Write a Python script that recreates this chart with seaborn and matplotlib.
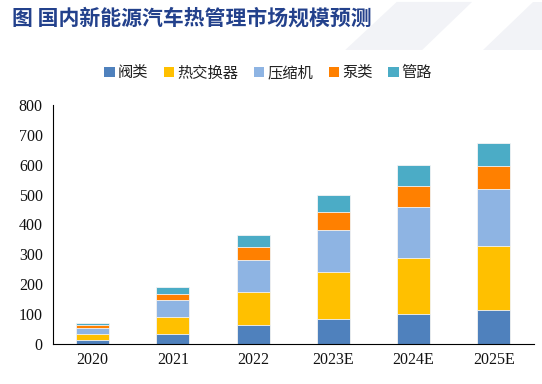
import numpy as np
import pandas as pd
import seaborn as sns
import matplotlib.pyplot as plt
from matplotlib.patches import Polygon, Patch

# Data
years = ['2020', '2021', '2022', '2023E', '2024E', '2025E']
series = ['阀类', '热交换器', '压缩机', '泵类', '管路']
valve = [12, 33, 61, 84, 101, 113]
heat_exchanger = [21, 57, 114, 155, 188, 214]
compressor = [20, 55, 105, 143, 170, 192]
pump = [8, 21, 43, 59, 69, 76]
pipe = [8, 23, 43, 58, 71, 78]
colors = ['#4F81BD', '#FFC000', '#8EB4E3', '#FF8000', '#4BACC6']

sns.set_theme(style='white')
plt.rcParams['font.family'] = ['Noto Sans CJK SC', 'DejaVu Sans']

df = pd.DataFrame({'year': years, '阀类': valve, '热交换器': heat_exchanger,
                   '压缩机': compressor, '泵类': pump, '管路': pipe})
cum = df[series].cumsum(axis=1)

fig = plt.figure(figsize=(5.42, 3.84), dpi=100)

# faint decorative shapes at top right
fig.patches.append(Polygon([[0.637, 0.87], [0.779, 0.87], [0.871, 0.995], [0.732, 0.995]],
                           closed=True, transform=fig.transFigure,
                           facecolor='#F2F3F7', edgecolor='none', zorder=0))
fig.patches.append(Polygon([[0.891, 0.87], [1.0, 0.87], [1.0, 0.995], [0.983, 0.995]],
                           closed=True, transform=fig.transFigure,
                           facecolor='#F2F3F7', edgecolor='none', zorder=0))

ax = fig.add_axes([0.097, 0.105, 0.888, 0.621])

# stacked bars: draw cumulative totals from the top series down
for name, col in reversed(list(zip(series, colors))):
    sns.barplot(x=df['year'], y=cum[name], color=col, width=0.41,
                edgecolor='#F4F4F4', linewidth=0.6, saturation=1, ax=ax)

ax.set_ylim(0, 800)
ax.set_xlim(-0.5, 5.5)
ax.set_yticks(np.arange(0, 801, 100))
ax.set_xlabel('')
ax.set_ylabel('')
for s in ['top', 'right']:
    ax.spines[s].set_visible(False)
for s in ['left', 'bottom']:
    ax.spines[s].set_color('black')
    ax.spines[s].set_linewidth(0.8)

ax.set_xticks(np.arange(-0.5, 5.6, 1), minor=True)
ax.tick_params(axis='x', which='major', length=0, pad=6)
ax.tick_params(axis='x', which='minor', length=5, width=0.8, color='black', direction='out')
ax.tick_params(axis='y', length=4, width=0.8, color='black', direction='out', pad=3)
for lab in ax.get_xticklabels() + ax.get_yticklabels():
    lab.set_fontfamily('Liberation Serif')
    lab.set_fontsize(11.5)
    lab.set_color('#111111')

handles = [Patch(facecolor=c, edgecolor='none') for c in colors]
fig.legend(handles, series, loc='center', bbox_to_anchor=(0.495, 0.81), ncol=5,
           frameon=False, fontsize=11, handlelength=0.7, handleheight=0.7,
           handletextpad=0.2, columnspacing=1.0, labelcolor='#222222')

fig.text(0.022, 0.953, '图 国内新能源汽车热管理市场规模预测', fontsize=15,
         fontweight='bold', color='#23418C', ha='left', va='center')

fig.savefig('out.png', dpi=100)
